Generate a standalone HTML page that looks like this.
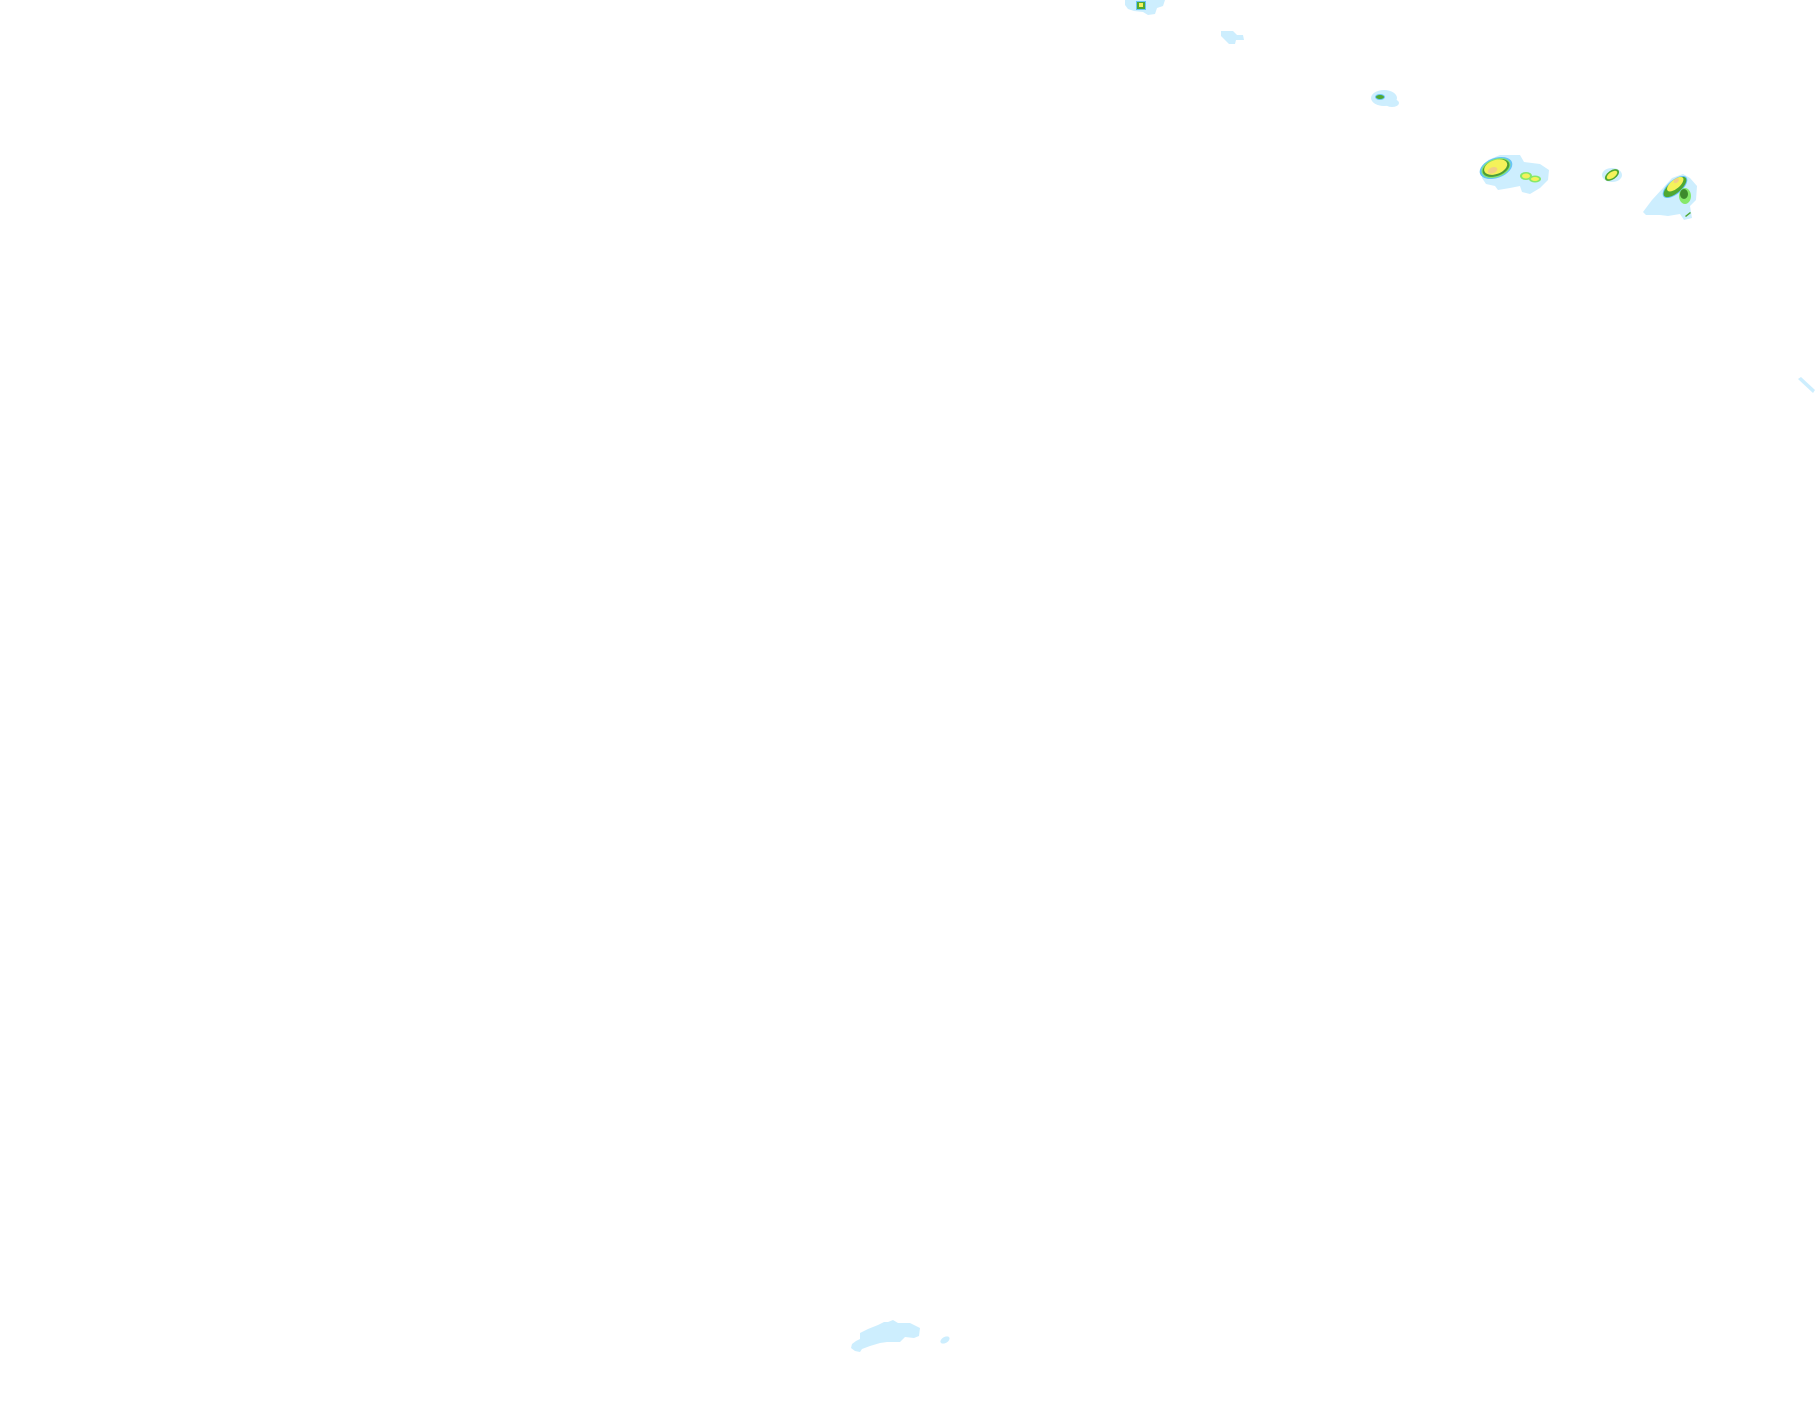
<!DOCTYPE html>
<html><head><meta charset="utf-8"><style>html,body{margin:0;padding:0;background:#fff;}svg{display:block}</style></head>
<body>
<svg width="1815" height="1424" viewBox="0 0 1815 1424" xmlns="http://www.w3.org/2000/svg">
<rect width="1815" height="1424" fill="#fff"/>
<g fill="#cdeefe">
<!-- top blob -->
<path d="M1125 0 L1165 0 L1163 6 L1157 8 L1155 14 L1148 15 L1143 12 L1134 11 L1128 9 L1125 5 Z"/>
<path d="M1221 31 L1233 31 L1237 35 L1243 35 L1244 40 L1236 40 L1235 44 L1229 44 L1225 40 L1221 36 Z"/>
<ellipse cx="1384" cy="98" rx="13" ry="8"/>
<ellipse cx="1392" cy="103" rx="7" ry="4"/>
<!-- cluster 1 -->
<path d="M1484 170 L1488 160 L1500 155 L1520 155 L1524 162 L1540 164 L1549 170 L1548 180 L1540 188 L1530 194 L1522 192 L1520 186 L1510 188 L1498 190 L1495 186 L1486 184 L1482 178 Z"/>
<ellipse cx="1612" cy="175" rx="10" ry="7"/>
<path d="M1643 212 L1652 200 L1663 188 L1672 178 L1683 174 L1690 178 L1697 186 L1696 200 L1690 206 L1692 218 L1684 220 L1680 214 L1668 216 L1660 215 L1646 215 Z"/>
<!-- streak -->
<path d="M1798 379 L1801 377 L1815 390 L1813 393 Z"/>
<!-- bottom -->
<path d="M852 1344 L856 1341 L860 1339 L860 1333 L868 1329 L878 1325 L884 1322 L888 1322 L893 1320 L898 1323 L910 1323 L920 1328 L919 1336 L914 1338 L905 1337 L900 1342 L887 1342 L880 1343 L870 1346 L862 1349 L860 1352 L855 1351 L851 1348 Z"/>
<ellipse cx="945" cy="1340" rx="5" ry="3" transform="rotate(-30 945 1340)"/>
</g>
<!-- cores -->
<rect x="1136" y="1" width="10" height="9" fill="#67c4f5"/>
<rect x="1137" y="2" width="8" height="7" fill="#4fa832"/>
<rect x="1139" y="3" width="4" height="4" fill="#f4f25a"/>
<ellipse cx="1380" cy="97" rx="5" ry="3" fill="#67c4f5"/>
<ellipse cx="1380" cy="97" rx="4" ry="2" fill="#4fa832"/>
<rect x="1872" y="0" width="0" height="0"/>
<g transform="rotate(-20 1496 168)">
<ellipse cx="1496" cy="168" rx="17" ry="10" fill="#67c4f5"/>
<ellipse cx="1496" cy="168" rx="15" ry="9" fill="#86e86a"/>
<ellipse cx="1496" cy="168" rx="14" ry="8" fill="#3d8a2c" opacity="0.8"/>
<ellipse cx="1496" cy="167" rx="12" ry="7" fill="#f4f25a"/>
<ellipse cx="1492" cy="169" rx="5" ry="3" fill="#f2cf84"/>
</g>
<ellipse cx="1526" cy="176" rx="6" ry="4" fill="#86e86a"/>
<ellipse cx="1526" cy="176" rx="4" ry="2.5" fill="#f4f25a"/>
<ellipse cx="1535" cy="179" rx="6" ry="3.5" fill="#86e86a"/>
<ellipse cx="1535" cy="179" rx="4" ry="2" fill="#f4f25a"/>
<g transform="rotate(-35 1612 175)">
<ellipse cx="1612" cy="175" rx="8" ry="4.5" fill="#4fa832"/>
<ellipse cx="1612" cy="175" rx="6" ry="3" fill="#f4f25a"/>
</g>
<g transform="rotate(-40 1675 187)">
<ellipse cx="1675" cy="187" rx="15" ry="7" fill="#67c4f5"/>
<ellipse cx="1675" cy="187" rx="14" ry="6" fill="#4fa832"/>
<ellipse cx="1677" cy="185" rx="10" ry="4.5" fill="#f4f25a"/>
<ellipse cx="1680" cy="183" rx="3" ry="2" fill="#f2cf84"/>
</g>
<ellipse cx="1685" cy="196" rx="6" ry="8" fill="#86e86a"/>
<ellipse cx="1684" cy="194" rx="4" ry="5" fill="#3d8a2c"/>
<path d="M1685 216 L1690 212 L1691 213 L1686 217 Z" fill="#4fa832"/>
</svg>
</body></html>
